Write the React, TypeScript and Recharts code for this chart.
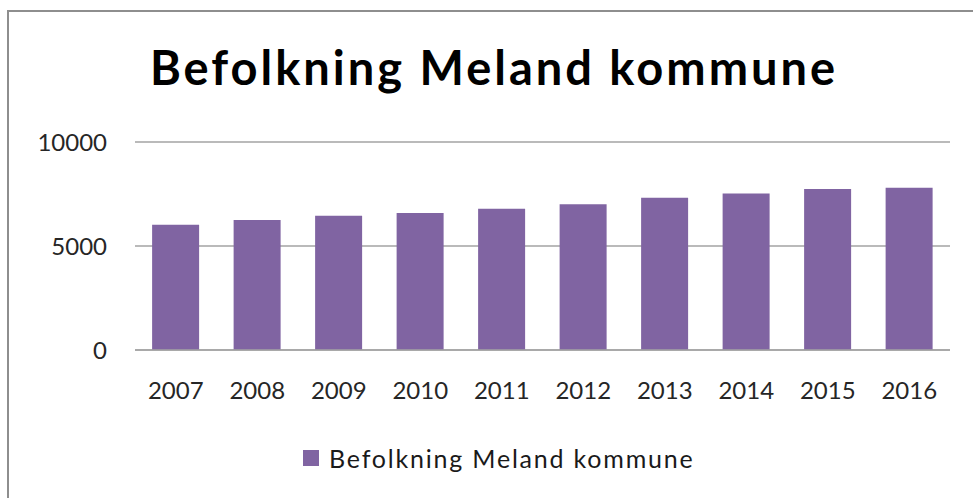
import React from "react";
import { BarChart, Bar, XAxis, YAxis, CartesianGrid } from "recharts";

const years = ["2007", "2008", "2009", "2010", "2011", "2012", "2013", "2014", "2015", "2016"];
const population = [6025, 6250, 6460, 6590, 6795, 7005, 7325, 7530, 7740, 7805];
const yTicks = [0, 5000, 10000];
const seriesName = "Befolkning Meland kommune";
const title = "Befolkning Meland kommune";
const barColor = "#8064A2";

const data = years.map((y, i) => ({ year: y, value: population[i] }));

export default function App() {
  return (
    <div
      style={{
        position: "absolute",
        left: 0,
        top: 0,
        width: 973,
        height: 498,
        overflow: "hidden",
        background: "#fff",
        fontFamily: "Lato, sans-serif",
      }}
    >
      <div
        style={{
          position: "absolute",
          left: 7,
          top: 10,
          width: 1100,
          height: 1000,
          borderLeft: "2px solid #8e8e8e",
          borderTop: "2px solid #8e8e8e",
        }}
      />
      <div style={{ position: "absolute", left: 0, top: 0 }}>
        <BarChart
          width={973}
          height={498}
          data={data}
          margin={{ top: 142, right: 23, bottom: 118, left: 0 }}
          barCategoryGap="21%"
        >
          <CartesianGrid vertical={false} stroke="#a3a3a3" strokeWidth={1.5} />
          <XAxis
            dataKey="year"
            height={30}
            tickLine={false}
            axisLine={{ stroke: "#a3a3a3", strokeWidth: 1.5 }}
            tickSize={0}
            tickMargin={32}
            tick={{ fill: "#262626", fontSize: 24, fontFamily: "Lato, sans-serif" }}
            interval={0}
          />
          <YAxis
            width={135}
            domain={[0, 10000]}
            ticks={yTicks}
            tickLine={false}
            axisLine={false}
            tickSize={0}
            tickMargin={28}
            tick={{ fill: "#262626", fontSize: 24, fontFamily: "Lato, sans-serif" }}
          />
          <Bar dataKey="value" name={seriesName} fill={barColor} isAnimationActive={false} />
        </BarChart>
      </div>
      <div
        style={{
          position: "absolute",
          left: 0,
          width: 988,
          top: 44,
          textAlign: "center",
          fontSize: 47,
          lineHeight: "47px",
          fontWeight: 700,
          letterSpacing: "3px",
          color: "#000",
          fontFamily: "Lato, sans-serif",
          whiteSpace: "nowrap",
        }}
      >
        {title}
      </div>
      <div
        style={{
          position: "absolute",
          left: 303,
          top: 443,
          height: 30,
          display: "flex",
          alignItems: "center",
          whiteSpace: "nowrap",
        }}
      >
        <div style={{ width: 16, height: 16, background: barColor, marginRight: 10 }} />
        <span style={{ fontSize: 25, letterSpacing: "1.8px", color: "#1a1a1a", fontFamily: "Lato, sans-serif" }}>
          {seriesName}
        </span>
      </div>
    </div>
  );
}
